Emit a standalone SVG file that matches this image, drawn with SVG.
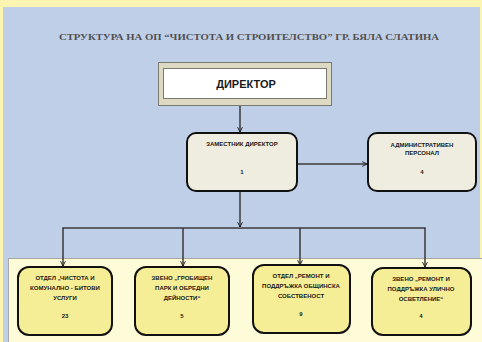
<svg xmlns="http://www.w3.org/2000/svg" width="482" height="342" viewBox="0 0 482 342">
<style>
.t{font-family:"Liberation Sans","Open Sans",sans-serif;font-weight:bold;fill:#1a1a1a;text-anchor:middle}
.s{font-size:6px}
.box{stroke:#111;stroke-width:2}
.con{fill:none;stroke:#3a3a3a;stroke-width:1.5}
</style>
<defs>
<marker id="arr" viewBox="0 0 10 10" refX="9" refY="5" markerWidth="6" markerHeight="6" orient="auto" markerUnits="userSpaceOnUse">
<path d="M1,1 L9,5 L1,9" fill="none" stroke="#222" stroke-width="1.6"/>
</marker>
</defs>
<rect x="0" y="0" width="482" height="342" fill="#fcf5b2"/>
<rect x="3" y="7" width="477" height="335" fill="#c0cfe8"/>
<rect x="8.5" y="258.5" width="474" height="84" fill="#fdfbd8" stroke="#a8a8a0" stroke-width="1"/>
<text x="249" y="40" font-family="Liberation Serif,serif" font-weight="bold" font-size="9" fill="#505050" text-anchor="middle" textLength="380" lengthAdjust="spacingAndGlyphs">СТРУКТУРА НА ОП “ЧИСТОТА И СТРОИТЕЛСТВО” ГР. БЯЛА СЛАТИНА</text>
<g id="connectors">
<line class="con" x1="240" y1="105" x2="240" y2="132" marker-end="url(#arr)"/>
<line class="con" x1="297" y1="164" x2="367" y2="164" marker-end="url(#arr)"/>
<line class="con" x1="240" y1="191" x2="240" y2="227" marker-end="url(#arr)"/>
<line class="con" x1="62.25" y1="228" x2="425.75" y2="228"/>
<line class="con" x1="63" y1="228" x2="63" y2="266" marker-end="url(#arr)"/>
<line class="con" x1="183" y1="228" x2="183" y2="266" marker-end="url(#arr)"/>
<line class="con" x1="300" y1="228" x2="300" y2="265" marker-end="url(#arr)"/>
<line class="con" x1="425" y1="228" x2="425" y2="267" marker-end="url(#arr)"/>
</g>
<g id="director">
<rect x="158.5" y="62.5" width="173" height="43" fill="#ddd9c3" stroke="#7a7a70" stroke-width="1"/>
<rect x="163.5" y="68.5" width="163" height="30" fill="#ffffff" stroke="#7a7a70" stroke-width="1"/>
<text class="t" x="246" y="88" font-size="11">ДИРЕКТОР</text>
</g>
<g id="deputy">
<rect class="box" x="187" y="133" width="110" height="58" rx="9" fill="#efeddf"/>
<text class="t s" x="242" y="146">ЗАМЕСТНИК ДИРЕКТОР</text>
<text class="t s" x="242" y="174">1</text>
</g>
<g id="admin">
<rect class="box" x="368" y="133" width="108" height="58" rx="9" fill="#efeddf"/>
<text class="t s" x="422" y="147">АДМИНИСТРАТИВЕН</text>
<text class="t s" x="422" y="155">ПЕРСОНАЛ</text>
<text class="t s" x="422" y="174">4</text>
</g>
<g id="dept1">
<rect class="box" x="18" y="267" width="94" height="68" rx="11" fill="#f6ee96"/>
<text class="t s" x="65" y="280">ОТДЕЛ „ЧИСТОТА И</text>
<text class="t s" x="65" y="290">КОМУНАЛНО - БИТОВИ</text>
<text class="t s" x="65" y="300">УСЛУГИ</text>
<text class="t s" x="65" y="318">23</text>
</g>
<g id="dept2">
<rect class="box" x="135" y="267" width="94" height="68" rx="11" fill="#f6ee96"/>
<text class="t s" x="182" y="280">ЗВЕНО „ГРОБИЩЕН</text>
<text class="t s" x="182" y="290">ПАРК И ОБРЕДНИ</text>
<text class="t s" x="182" y="300">ДЕЙНОСТИ“</text>
<text class="t s" x="182" y="318">5</text>
</g>
<g id="dept3">
<rect class="box" x="253" y="265" width="97" height="68" rx="11" fill="#f6ee96"/>
<text class="t s" x="301" y="278">ОТДЕЛ „РЕМОНТ И</text>
<text class="t s" x="301" y="288">ПОДДРЪЖКА ОБЩИНСКА</text>
<text class="t s" x="301" y="298">СОБСТВЕНОСТ</text>
<text class="t s" x="301" y="316">9</text>
</g>
<g id="dept4">
<rect class="box" x="372" y="268" width="99" height="67" rx="11" fill="#f6ee96"/>
<text class="t s" x="421" y="281">ЗВЕНО „РЕМОНТ И</text>
<text class="t s" x="421" y="291">ПОДДРЪЖКА УЛИЧНО</text>
<text class="t s" x="421" y="301">ОСВЕТЛЕНИЕ“</text>
<text class="t s" x="421" y="318">4</text>
</g>
</svg>
